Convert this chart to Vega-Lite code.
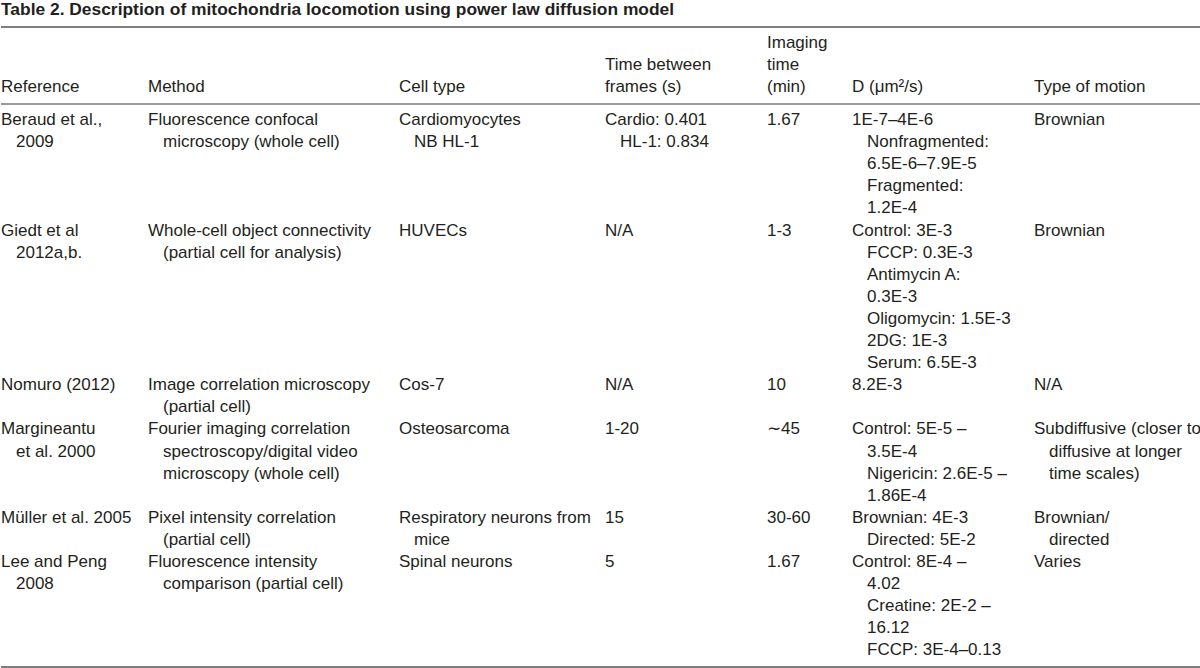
{
  "$schema": "https://vega.github.io/schema/vega-lite/v6.json",
  "width": 1200,
  "height": 645,
  "padding": 0,
  "background": "white",
  "title": {"text": "Table 2. Description of mitochondria locomotion using power law diffusion model", "anchor": "start", "frame": "group", "font": "Liberation Sans", "fontSize": 17.4, "fontWeight": "bold", "color": "#231f20", "offset": 5.8},
  "config": {"view": {"stroke": null}, "text": {"font": "Liberation Sans", "fontSize": 17, "color": "#231f20", "align": "left", "baseline": "middle"}},
  "data": {"values": [
    {"part": "head", "col": 0, "line": -1, "cont": 0, "text": "Reference"},
    {"part": "head", "col": 1, "line": -1, "cont": 0, "text": "Method"},
    {"part": "head", "col": 2, "line": -1, "cont": 0, "text": "Cell type"},
    {"part": "head", "col": 3, "line": -2, "cont": 0, "text": "Time between"},
    {"part": "head", "col": 3, "line": -1, "cont": 0, "text": "frames (s)"},
    {"part": "head", "col": 4, "line": -3, "cont": 0, "text": "Imaging"},
    {"part": "head", "col": 4, "line": -2, "cont": 0, "text": "time"},
    {"part": "head", "col": 4, "line": -1, "cont": 0, "text": "(min)"},
    {"part": "head", "col": 5, "line": -1, "cont": 0, "text": "D (μm²/s)"},
    {"part": "head", "col": 6, "line": -1, "cont": 0, "text": "Type of motion"},

    {"part": "body", "col": 0, "line": 0, "cont": 0, "text": "Beraud et al.,"},
    {"part": "body", "col": 0, "line": 1, "cont": 1, "text": "2009"},
    {"part": "body", "col": 1, "line": 0, "cont": 0, "text": "Fluorescence confocal"},
    {"part": "body", "col": 1, "line": 1, "cont": 1, "text": "microscopy (whole cell)"},
    {"part": "body", "col": 2, "line": 0, "cont": 0, "text": "Cardiomyocytes"},
    {"part": "body", "col": 2, "line": 1, "cont": 1, "text": "NB HL-1"},
    {"part": "body", "col": 3, "line": 0, "cont": 0, "text": "Cardio: 0.401"},
    {"part": "body", "col": 3, "line": 1, "cont": 1, "text": "HL-1: 0.834"},
    {"part": "body", "col": 4, "line": 0, "cont": 0, "text": "1.67"},
    {"part": "body", "col": 5, "line": 0, "cont": 0, "text": "1E-7–4E-6"},
    {"part": "body", "col": 5, "line": 1, "cont": 1, "text": "Nonfragmented:"},
    {"part": "body", "col": 5, "line": 2, "cont": 1, "text": "6.5E-6–7.9E-5"},
    {"part": "body", "col": 5, "line": 3, "cont": 1, "text": "Fragmented:"},
    {"part": "body", "col": 5, "line": 4, "cont": 1, "text": "1.2E-4"},
    {"part": "body", "col": 6, "line": 0, "cont": 0, "text": "Brownian"},

    {"part": "body", "col": 0, "line": 5, "cont": 0, "text": "Giedt et al"},
    {"part": "body", "col": 0, "line": 6, "cont": 1, "text": "2012a,b."},
    {"part": "body", "col": 1, "line": 5, "cont": 0, "text": "Whole-cell object connectivity"},
    {"part": "body", "col": 1, "line": 6, "cont": 1, "text": "(partial cell for analysis)"},
    {"part": "body", "col": 2, "line": 5, "cont": 0, "text": "HUVECs"},
    {"part": "body", "col": 3, "line": 5, "cont": 0, "text": "N/A"},
    {"part": "body", "col": 4, "line": 5, "cont": 0, "text": "1-3"},
    {"part": "body", "col": 5, "line": 5, "cont": 0, "text": "Control: 3E-3"},
    {"part": "body", "col": 5, "line": 6, "cont": 1, "text": "FCCP: 0.3E-3"},
    {"part": "body", "col": 5, "line": 7, "cont": 1, "text": "Antimycin A:"},
    {"part": "body", "col": 5, "line": 8, "cont": 1, "text": "0.3E-3"},
    {"part": "body", "col": 5, "line": 9, "cont": 1, "text": "Oligomycin: 1.5E-3"},
    {"part": "body", "col": 5, "line": 10, "cont": 1, "text": "2DG: 1E-3"},
    {"part": "body", "col": 5, "line": 11, "cont": 1, "text": "Serum: 6.5E-3"},
    {"part": "body", "col": 6, "line": 5, "cont": 0, "text": "Brownian"},

    {"part": "body", "col": 0, "line": 12, "cont": 0, "text": "Nomuro (2012)"},
    {"part": "body", "col": 1, "line": 12, "cont": 0, "text": "Image correlation microscopy"},
    {"part": "body", "col": 1, "line": 13, "cont": 1, "text": "(partial cell)"},
    {"part": "body", "col": 2, "line": 12, "cont": 0, "text": "Cos-7"},
    {"part": "body", "col": 3, "line": 12, "cont": 0, "text": "N/A"},
    {"part": "body", "col": 4, "line": 12, "cont": 0, "text": "10"},
    {"part": "body", "col": 5, "line": 12, "cont": 0, "text": "8.2E-3"},
    {"part": "body", "col": 6, "line": 12, "cont": 0, "text": "N/A"},

    {"part": "body", "col": 0, "line": 14, "cont": 0, "text": "Margineantu"},
    {"part": "body", "col": 0, "line": 15, "cont": 1, "text": "et al. 2000"},
    {"part": "body", "col": 1, "line": 14, "cont": 0, "text": "Fourier imaging correlation"},
    {"part": "body", "col": 1, "line": 15, "cont": 1, "text": "spectroscopy/digital video"},
    {"part": "body", "col": 1, "line": 16, "cont": 1, "text": "microscopy (whole cell)"},
    {"part": "body", "col": 2, "line": 14, "cont": 0, "text": "Osteosarcoma"},
    {"part": "body", "col": 3, "line": 14, "cont": 0, "text": "1-20"},
    {"part": "body", "col": 4, "line": 14, "cont": 0, "text": "∼45"},
    {"part": "body", "col": 5, "line": 14, "cont": 0, "text": "Control: 5E-5 –"},
    {"part": "body", "col": 5, "line": 15, "cont": 1, "text": "3.5E-4"},
    {"part": "body", "col": 5, "line": 16, "cont": 1, "text": "Nigericin: 2.6E-5 –"},
    {"part": "body", "col": 5, "line": 17, "cont": 1, "text": "1.86E-4"},
    {"part": "body", "col": 6, "line": 14, "cont": 0, "text": "Subdiffusive (closer to"},
    {"part": "body", "col": 6, "line": 15, "cont": 1, "text": "diffusive at longer"},
    {"part": "body", "col": 6, "line": 16, "cont": 1, "text": "time scales)"},

    {"part": "body", "col": 0, "line": 18, "cont": 0, "text": "Müller et al. 2005"},
    {"part": "body", "col": 1, "line": 18, "cont": 0, "text": "Pixel intensity correlation"},
    {"part": "body", "col": 1, "line": 19, "cont": 1, "text": "(partial cell)"},
    {"part": "body", "col": 2, "line": 18, "cont": 0, "text": "Respiratory neurons from"},
    {"part": "body", "col": 2, "line": 19, "cont": 1, "text": "mice"},
    {"part": "body", "col": 3, "line": 18, "cont": 0, "text": "15"},
    {"part": "body", "col": 4, "line": 18, "cont": 0, "text": "30-60"},
    {"part": "body", "col": 5, "line": 18, "cont": 0, "text": "Brownian: 4E-3"},
    {"part": "body", "col": 5, "line": 19, "cont": 1, "text": "Directed: 5E-2"},
    {"part": "body", "col": 6, "line": 18, "cont": 0, "text": "Brownian/"},
    {"part": "body", "col": 6, "line": 19, "cont": 1, "text": "directed"},

    {"part": "body", "col": 0, "line": 20, "cont": 0, "text": "Lee and Peng"},
    {"part": "body", "col": 0, "line": 21, "cont": 1, "text": "2008"},
    {"part": "body", "col": 1, "line": 20, "cont": 0, "text": "Fluorescence intensity"},
    {"part": "body", "col": 1, "line": 21, "cont": 1, "text": "comparison (partial cell)"},
    {"part": "body", "col": 2, "line": 20, "cont": 0, "text": "Spinal neurons"},
    {"part": "body", "col": 3, "line": 20, "cont": 0, "text": "5"},
    {"part": "body", "col": 4, "line": 20, "cont": 0, "text": "1.67"},
    {"part": "body", "col": 5, "line": 20, "cont": 0, "text": "Control: 8E-4 –"},
    {"part": "body", "col": 5, "line": 21, "cont": 1, "text": "4.02"},
    {"part": "body", "col": 5, "line": 22, "cont": 1, "text": "Creatine: 2E-2 –"},
    {"part": "body", "col": 5, "line": 23, "cont": 1, "text": "16.12"},
    {"part": "body", "col": 5, "line": 24, "cont": 1, "text": "FCCP: 3E-4–0.13"},
    {"part": "body", "col": 6, "line": 20, "cont": 0, "text": "Varies"}
  ]},
  "encoding": {
    "x": {"field": "col", "type": "quantitative", "axis": null, "scale": {"domain": [0, 1, 2, 3, 4, 5, 6, 7], "range": [0, 147, 398, 604, 766, 851, 1033, 1200], "zero": false, "nice": false}},
    "y": {"field": "line", "type": "quantitative", "axis": null, "scale": {"domain": [-4.344, 24.84], "reverse": true, "zero": false, "nice": false}}
  },
  "layer": [
    {"mark": {"type": "rule", "color": "#7f7f7f", "strokeWidth": 1.6}, "encoding": {"x": null, "y": {"datum": -4.208}}},
    {"mark": {"type": "rule", "color": "#9a9a9a", "strokeWidth": 1.6}, "encoding": {"x": null, "y": {"datum": -0.724}}},
    {"mark": {"type": "rule", "color": "#7f7f7f", "strokeWidth": 1.6}, "encoding": {"x": null, "y": {"datum": 24.75}}},
    {"transform": [{"filter": "datum.part === 'head'"}], "mark": {"type": "text", "dy": -11}, "encoding": {"text": {"field": "text"}}},
    {"transform": [{"filter": "datum.part === 'body' && datum.cont === 0"}], "mark": {"type": "text"}, "encoding": {"text": {"field": "text"}}},
    {"transform": [{"filter": "datum.part === 'body' && datum.cont === 1"}], "mark": {"type": "text", "dx": 15}, "encoding": {"text": {"field": "text"}}}
  ]
}
